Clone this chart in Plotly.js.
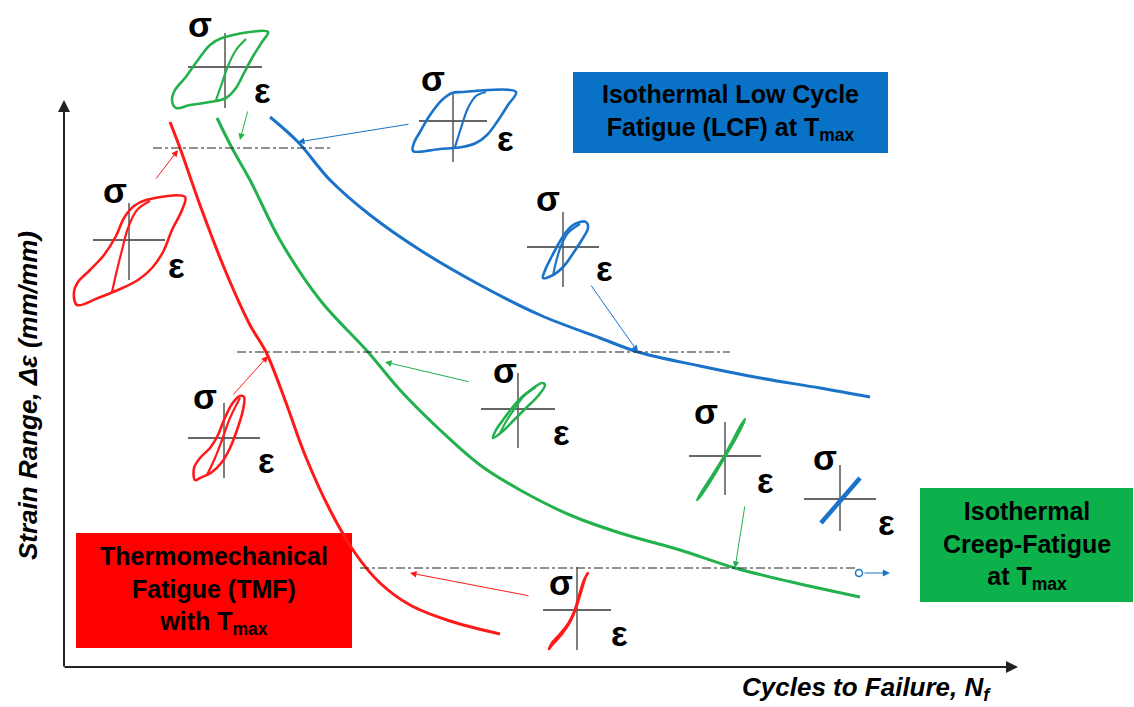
<!DOCTYPE html>
<html><head><meta charset="utf-8">
<script src="https://cdn.plot.ly/plotly-3.0.1.min.js"></script>
<style>html,body{margin:0;padding:0;background:#fff}#chart{width:1134px;height:707px}</style>
</head><body><div id="chart"></div>
<script>
// ---- data (schematic; units = picture pixels) ----
// Strain-life curves
const tmfX   = [170,180,200,225,250,266,285,305,330,355,380,410,450,500];
const tmfY   = [122,148,205,270,325,352,400,455,510,553,583,605,621,634];
const creepX = [217,232,250,280,320,368,400,440,480,520,570,620,680,735,800,860];
const creepY = [118,148,180,240,300,352,390,430,465,490,515,533,550,568,584,597];
const lcfX   = [270,298,330,370,420,480,540,600,638,700,760,820,870];
const lcfY   = [117,142,180,215,250,285,315,338,352,366,378,388,397];
// Reference strain levels (dash-dot)
const levelY  = [148,352,568];
const levelX0 = [153,237,360];
const levelX1 = [333,730,855];

// Hysteresis loops: outer path + inner branch, crosshair centre & half-sizes
const loops = [
  {name:'green1', color:'#22b14c', lx:[176,172,175,185,198,210,222,268,262,252,243,236,226,210,190,176], ly:[108,100,90,78,60,45,38,32,42,58,75,88,98,102,105,108], ix:[216,221,228,236,246], iy:[100,86,66,50,39], cx:225, cy:67, hw:37, ht:34, hb:41, sx:200, sy:24, ex:262, ey:90},
  {name:'blue1', color:'#1a73c8', lx:[413,414,420,430,442,452,462,516,508,497,487,476,462,440,413], ly:[151,143,132,115,100,93,92,92,105,122,135,143,147,149,151], ix:[455,461,468,476,486], iy:[147,128,108,96,92], cx:453, cy:121, hw:34, ht:29, hb:41, sx:433, sy:78, ex:505, ey:138},
  {name:'red1', color:'#ff1a1a', lx:[77,74,78,90,104,116,124,134,146,185,182,172,163,152,138,118,98,77], ly:[305,292,282,270,255,236,218,206,200,197,210,230,252,268,280,290,298,305], ix:[112,117,122,128,137,150], iy:[292,270,250,228,210,201], cx:129, cy:240, hw:36, ht:37, hb:40, sx:115, sy:190, ex:176, ey:265},
  {name:'blue2', color:'#1a73c8', lx:[543,546,552,559,566,575,586,588,583,574,564,553,543], ly:[278,268,256,243,232,224,222,228,238,252,266,275,278], ix:[553,556,561,568,580], iy:[276,262,246,233,224], cx:563, cy:247, hw:36, ht:35, hb:40, sx:548, sy:198, ex:604, ey:268},
  {name:'red2', color:'#ff1a1a', lx:[195,194,200,210,218,224,232,240,244,243,237,230,222,212,200,195], ly:[480,468,458,448,435,420,404,396,397,410,430,448,462,472,478,480], ix:[207,215,222,230,240], iy:[475,458,440,418,398], cx:224, cy:438, hw:36, ht:35, hb:40, sx:205, sy:396, ex:266, ey:460},
  {name:'green2', color:'#22b14c', lx:[493,496,503,512,522,532,542,545,538,526,514,503,493], ly:[438,430,420,408,397,389,383,385,396,408,420,431,438], ix:[500,507,515,524,536], iy:[433,420,408,396,387], cx:518, cy:409, hw:37, ht:36, hb:39, sx:505, sy:370, ex:561, ey:432},
  {name:'green3', color:'#22b14c', lx:[697,703,712,722,732,740,745,743,736,726,716,706,699,697], ly:[500,490,476,460,442,427,419,424,438,455,472,488,498,500], ix:[], iy:[], cx:725, cy:456, hw:36, ht:34, hb:39, sx:706, sy:411, ex:765, ey:480},
  {name:'blue3', color:'#1a73c8', lx:[821,860], ly:[523,478], ix:[], iy:[], cx:840, cy:499, hw:36, ht:34, hb:32, sx:825, sy:457, ex:886, ey:522},
  {name:'red3', color:'#ff1a1a', lx:[549,552,560,568,574,579,584,588,586,581,576,570,562,552,549], ly:[649,643,634,624,612,596,580,573,576,592,608,622,634,645,649], ix:[], iy:[], cx:577, cy:610, hw:34, ht:43, hb:40, sx:561, sy:582, ex:619, ey:633}
];

// Pointer arrows: [tipX, tipY, tailX, tailY, colour]
const pointers = [
  [178,150,155,180,'#ff1a1a'],
  [240,140,248,110,'#22b14c'],
  [298,142,410,124,'#1a73c8'],
  [638,352,590,284,'#1a73c8'],
  [385,362,470,382,'#22b14c'],
  [268,356,232,396,'#ff1a1a'],
  [735,568,745,505,'#22b14c'],
  [410,573,530,596,'#ff1a1a']
];

// ---- traces ----
const traces = [];
traces.push({x:tmfX, y:tmfY, mode:'lines', line:{color:'#ff1a1a', width:3, shape:'spline'}, hoverinfo:'skip'});
traces.push({x:creepX, y:creepY, mode:'lines', line:{color:'#22b14c', width:3, shape:'spline'}, hoverinfo:'skip'});
traces.push({x:lcfX, y:lcfY, mode:'lines', line:{color:'#1a73c8', width:3, shape:'spline'}, hoverinfo:'skip'});
for (let i=0;i<levelY.length;i++){
  traces.push({x:[levelX0[i],levelX1[i]], y:[levelY[i],levelY[i]], mode:'lines', line:{color:'#222', width:1, dash:'dashdot'}, hoverinfo:'skip'});
}
traces.push({x:[levelX1[2]+4], y:[levelY[2]+5], mode:'markers', marker:{symbol:'circle-open', size:7, color:'#1a73c8', line:{width:1.5}}, hoverinfo:'skip'});

const annotations = [];
const shapes = [];
const symFont = {family:'Liberation Sans, Arial', size:35, color:'#000'};
loops.forEach(L=>{
  traces.push({x:[L.cx-L.hw, L.cx+L.hw], y:[L.cy, L.cy], mode:'lines', line:{color:'#333', width:1.5}, hoverinfo:'skip'});
  traces.push({x:[L.cx, L.cx], y:[L.cy-L.ht, L.cy+L.hb], mode:'lines', line:{color:'#555', width:1.5}, hoverinfo:'skip'});
  traces.push({x:L.lx, y:L.ly, mode:'lines', line:{color:L.color, width:(L.name==='blue3'?4.5:2.6), shape:(L.lx.length>2?'spline':'linear')}, hoverinfo:'skip'});
  if (L.ix.length) traces.push({x:L.ix, y:L.iy, mode:'lines', line:{color:L.color, width:2.2, shape:'spline'}, hoverinfo:'skip'});
  annotations.push({x:L.sx, y:L.sy, xref:'x', yref:'y', text:'<b>σ</b>', showarrow:false, font:symFont});
  annotations.push({x:L.ex, y:L.ey, xref:'x', yref:'y', text:'<b>ε</b>', showarrow:false, font:symFont});
});

pointers.forEach(p=>{
  annotations.push({x:p[0], y:p[1], ax:p[2], ay:p[3], xref:'x', yref:'y', axref:'x', ayref:'y', text:'', showarrow:true, arrowhead:2, arrowsize:1.3, arrowwidth:1, arrowcolor:p[4]});
});
annotations.push({x:890, y:573, ax:863, ay:573, xref:'x', yref:'y', axref:'x', ayref:'y', text:'', showarrow:true, arrowhead:2, arrowsize:1.2, arrowwidth:1.2, arrowcolor:'#1a73c8'});

// axes with arrowheads
annotations.push({x:64, y:100, ax:64, ay:668, xref:'x', yref:'y', axref:'x', ayref:'y', text:'', showarrow:true, arrowhead:2, arrowsize:1.2, arrowwidth:2, arrowcolor:'#222'});
annotations.push({x:1018, y:667, ax:63, ay:667, xref:'x', yref:'y', axref:'x', ayref:'y', text:'', showarrow:true, arrowhead:2, arrowsize:1.2, arrowwidth:2, arrowcolor:'#222'});

// axis titles
annotations.push({x:28, y:396, xref:'x', yref:'y', text:'<b><i>Strain Range, Δε (mm/mm)</i></b>', textangle:-90, showarrow:false, font:{family:'Liberation Sans, Arial', size:26, color:'#000'}});
annotations.push({x:866, y:688, xref:'x', yref:'y', text:'<b><i>Cycles to Failure, N<sub>f</sub></i></b>', showarrow:false, font:{family:'Liberation Sans, Arial', size:26, color:'#000'}});

// boxes
const boxes = [
  {x0:573, x1:888, y0:72, y1:153, fill:'#0a72c6', text:'<b>Isothermal Low Cycle<br>Fatigue (LCF) at T<sub>max</sub></b>'},
  {x0:920, x1:1133, y0:488, y1:602, fill:'#0cb14c', text:'<b>Isothermal<br>Creep-Fatigue<br>at T<sub>max</sub></b>'},
  {x0:76, x1:352, y0:533, y1:648, fill:'#ff0000', text:'<b>Thermomechanical<br>Fatigue (TMF)<br>with T<sub>max</sub></b>'}
];
boxes.forEach(b=>{
  shapes.push({type:'rect', xref:'x', yref:'y', x0:b.x0, x1:b.x1, y0:b.y0, y1:b.y1, fillcolor:b.fill, line:{width:0}, layer:'below'});
  annotations.push({x:(b.x0+b.x1)/2, y:(b.y0+b.y1)/2, xref:'x', yref:'y', text:b.text, showarrow:false, align:'center', font:{family:'Liberation Sans, Arial', size:25, color:'#000'}});
});

const layout = {
  width:1134, height:707, margin:{l:0,r:0,t:0,b:0},
  paper_bgcolor:'#fff', plot_bgcolor:'#fff', showlegend:false,
  xaxis:{range:[0,1134], visible:false, fixedrange:true},
  yaxis:{range:[707,0], visible:false, fixedrange:true},
  annotations:annotations, shapes:shapes
};
Plotly.newPlot('chart', traces, layout, {displayModeBar:false, staticPlot:true});
</script></body></html>
